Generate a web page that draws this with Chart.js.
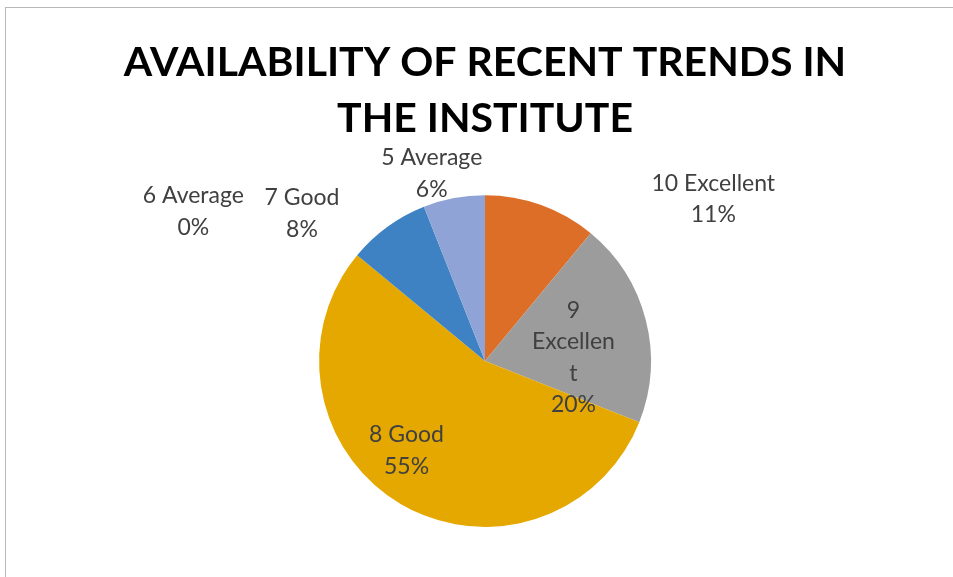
<!DOCTYPE html>
<html>
<head>
<meta charset="utf-8">
<script src="https://cdn.jsdelivr.net/npm/chart.js@4"></script>
<style>
  html, body { margin: 0; padding: 0; background: #fff; }
  #wrap { position: relative; width: 953px; height: 577px; }
  #frame { position: absolute; left: 5px; top: 7px; right: 0; bottom: 0;
           border-top: 1px solid #b8b8b8; border-left: 1px solid #b8b8b8; }
  canvas { position: absolute; left: 0; top: 0; }
</style>
</head>
<body>
<div id="wrap">
  <div id="frame"></div>
  <canvas id="chart" width="953" height="577"></canvas>
</div>
<script>
// data
var categories = ['10 Excellent', '9 Excellent', '8 Good', '7 Good', '6 Average', '5 Average'];
var percents = [11, 20, 55, 8, 0, 6];
var sliceColors = ['#DD6E28', '#9C9C9C', '#E5A800', '#3F82C4', '#6E6E6E', '#8FA3D6'];

// label placement, relative to pie centre in units of radius (text block centre)
var labelOffsets = [[1.376, -0.976], [0.533, -0.02], [-0.473, 0.54], [-1.103, -0.89], [-1.758, -0.90], [-0.321, -1.13]];
var labelWrap = [0, 88, 0, 0, 0, 0];

function wrapText(ctx, text, maxW) {
    var lines = [];
    text.split(' ').forEach(function (w) {
        if (ctx.measureText(w).width <= maxW) { lines.push(w); return; }
        var cur = '';
        for (var i = 0; i < w.length; i++) {
            if (ctx.measureText(cur + w[i]).width > maxW && cur) { lines.push(cur); cur = ''; }
            cur += w[i];
        }
        if (cur) lines.push(cur);
    });
    return lines;
}

var sliceLabels = {
    id: 'sliceLabels',
    afterDatasetsDraw: function (chart) {
        var ctx = chart.ctx;
        var arcs = chart.getDatasetMeta(0).data;
        ctx.save();
        ctx.font = '23px Lato';
        ctx.fillStyle = '#404040';
        ctx.textAlign = 'center';
        ctx.textBaseline = 'middle';
        arcs.forEach(function (arc, i) {
            var r = arc.outerRadius;
            var cx = arc.x + labelOffsets[i][0] * r;
            var cy = arc.y + labelOffsets[i][1] * r;
            var lines = labelWrap[i] ? wrapText(ctx, categories[i], labelWrap[i]) : [categories[i]];
            lines = lines.concat([percents[i] + '%']);
            var lh = 31.5;
            var y0 = cy - (lines.length - 1) * lh / 2;
            lines.forEach(function (l, k) { ctx.fillText(l, cx, y0 + k * lh); });
        });
        ctx.restore();
    }
};

new Chart(document.getElementById('chart'), {
    type: 'pie',
    data: {
        labels: categories,
        datasets: [{
            data: percents,
            backgroundColor: sliceColors,
            borderWidth: 0
        }]
    },
    options: {
        responsive: false,
        animation: false,
        layout: { padding: { left: 17, right: 0, top: 0, bottom: 50 } },
        plugins: {
            legend: { display: false },
            tooltip: { enabled: false },
            title: {
                display: true,
                text: ['AVAILABILITY OF RECENT TRENDS IN', 'THE INSTITUTE'],
                color: '#000',
                font: { family: 'Lato', size: 41, weight: 'bold', lineHeight: 1.38 },
                padding: { top: 34, bottom: 48 }
            }
        }
    },
    plugins: [sliceLabels]
});
</script>
</body>
</html>
